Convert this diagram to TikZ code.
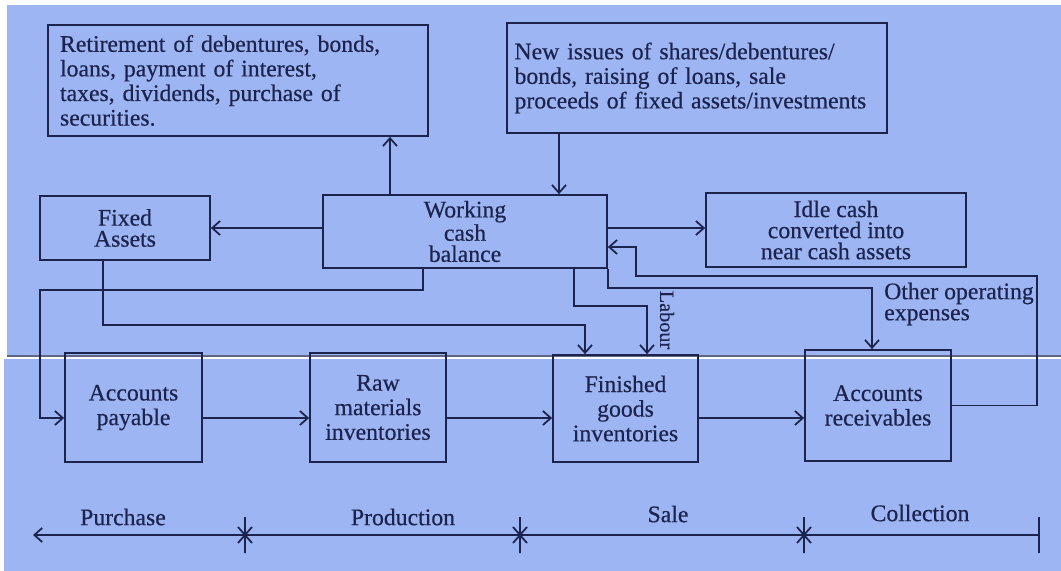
\documentclass[tikz,border=0pt]{standalone}
\usepackage{fontspec}
\setmainfont{Liberation Serif}[FakeBold=0.5]
\usetikzlibrary{arrows.meta}

\definecolor{paper}{RGB}{157,181,243}
\definecolor{ink}{RGB}{28,36,78}

\tikzset{
  box/.style={draw=ink, line width=1pt, inner sep=0pt, align=center, text=ink,
    font=\fontsize{13.5}{14}\selectfont},
  tight/.style={font=\fontsize{13.5}{12}\selectfont},
  conn/.style={draw=ink, line width=1pt, ->},
  lbl/.style={text=ink, font=\fontsize{13.5}{12}\selectfont},
}

\begin{document}
\begin{tikzpicture}[x=0.02cm, y=-0.02cm, >={Straight Barb[length=4.5pt,width=8pt]}] % cash flows of the working capital cycle
\useasboundingbox (0,0) rectangle (1061,571);
\fill[white] (0,0) rectangle (1061,571);
\fill[paper] (7,5) rectangle (1061,357);
\fill[paper] (4,359) rectangle (1061,571);
\draw[ink!70, line width=0.6pt] (7,356) -- (1061,356);

\node[box, text width=7.12cm, align=left, inner xsep=0.24cm, minimum width=7.6cm, minimum height=2.22cm] (ret) at (238,80.5)
  {Retirement of debentures, bonds,\\ loans, payment of interest,\\ taxes, dividends, purchase of\\ securities.};
\node[box, text width=7.3cm, align=left, inner xsep=0.15cm, minimum width=7.6cm, minimum height=2.2cm] (newiss) at (697,78)
  {New issues of shares/debentures/\\ bonds, raising of loans, sale\\ proceeds of fixed assets/investments};
\node[box, tight, minimum width=3.4cm, minimum height=1.28cm] (fixed) at (125,228) {Fixed\\ Assets};
\node[box, tight, minimum width=5.68cm, minimum height=1.46cm] (wcb) at (465,231.5) {Working\\ cash\\ balance};
\node[box, tight, minimum width=5.2cm, minimum height=1.48cm] (idle) at (836,230) {Idle cash\\ converted into\\ near cash assets};

\node[box, minimum width=2.74cm, minimum height=2.18cm] (ap) at (133.5,407.5) {Accounts\\ payable};
\node[box, minimum width=2.72cm, minimum height=2.18cm] (raw) at (378,407.5) {Raw\\ materials\\ inventories};
\node[box, minimum width=2.9cm, minimum height=2.14cm] (fin) at (625.5,408.5) {Finished\\ goods\\ inventories};
\node[box, minimum width=2.92cm, minimum height=2.22cm] (ar) at (878,405.5) {Accounts\\ receivables};

\coordinate (rowy) at (0,418);
\coordinate (upx) at (390,0);
\coordinate (downx) at (559,0);
\coordinate (feeda) at (1037,276);
\coordinate (feedb) at (636,247);
\coordinate (payx) at (423,0);
\coordinate (paya) at (40,290);
\coordinate (fixx) at (103,0);
\coordinate (fixa) at (585,325);
\coordinate (labx) at (574,0);
\coordinate (laba) at (647,306);
\coordinate (opa) at (872,288);

\draw[conn] (wcb.north -| upx) -- (ret.south -| upx);
\draw[conn] (newiss.south -| downx) -- (wcb.north -| downx);
\draw[conn] (wcb.west |- fixed.east) -- (fixed.east);
\draw[conn] (wcb.east |- fixed.east) -- (idle.west |- fixed.east);
\draw[conn] (ar.east) -| (feeda) -| (feedb) -- (wcb.east |- feedb);
\draw[conn] (wcb.south -| payx) |- (paya) |- (ap.west |- rowy);
\draw[conn] (fixed.south -| fixx) |- (fixa) -- (fin.north -| fixa);
\draw[conn] (wcb.south -| labx) |- (laba) -- (fin.north -| laba);
\draw[conn] (wcb.south east) |- (opa) -- (ar.north -| opa);
\draw[conn] (ap.east |- rowy) -- (raw.west |- rowy);
\draw[conn] (raw.east |- rowy) -- (fin.west |- rowy);
\draw[conn] (fin.east |- rowy) -- (ar.west |- rowy);

\node[lbl, rotate=-90, font=\fontsize{11.5}{12}\selectfont] (labour) at (667,320) {Labour};
\node[lbl, align=left, anchor=west] (other) at (878,304) {Other operating\\ expenses};

% time line
\coordinate (t0) at (33,535);
\coordinate (t1) at (245,535);
\coordinate (t2) at (520,535);
\coordinate (t3) at (804,535);
\coordinate (t4) at (1039,535);
\draw[conn, <-] (t0) -- (t4);
\draw[ink, line width=1pt] (t4) ++(0,-18) -- ++(0,36);
\foreach \t in {t1,t2,t3}
  \draw[ink, line width=1pt] (\t) ++(0,-18) -- ++(0,36)
    (\t) ++(-7,-8) -- ++(14,16)
    (\t) ++(7,-8) -- ++(-14,16);

\node[lbl] (purchase) at (123,517) {Purchase};
\node[lbl] (production) at (403,517) {Production};
\node[lbl] (sale) at (668,514) {Sale};
\node[lbl] (collection) at (920,513) {Collection};
\end{tikzpicture}
\end{document}
